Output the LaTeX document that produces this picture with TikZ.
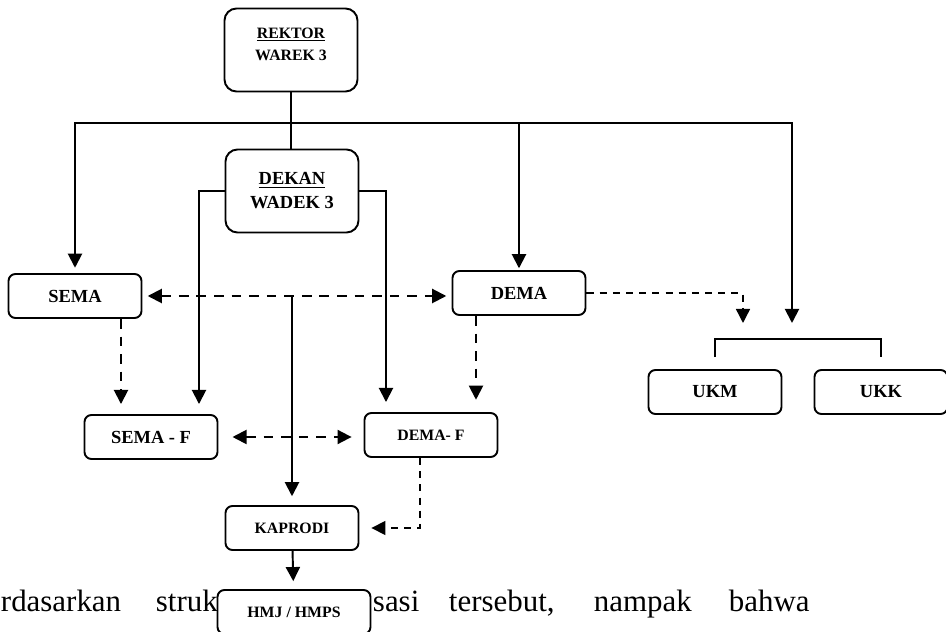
\documentclass[tikz,border=0pt]{standalone}
\usepackage{fontspec}
\setmainfont{Liberation Serif}
\usetikzlibrary{arrows.meta, calc}
\def\boxwd{26.6mm}

\begin{document}
\begin{tikzpicture}[x=0.2mm, y=-0.2mm, line width=1.1pt, >={Triangle[length=8pt,width=8pt]}]
    \tikzstyle{unit box}=[draw, rounded corners=1.4mm, minimum width=\boxwd, minimum height=8.8mm, inner sep=0pt, fill=white, font=\bfseries\fontsize{10.5}{12}\selectfont]
    \tikzstyle{small box}=[unit box, font=\bfseries\fontsize{9}{11}\selectfont]
    \tikzstyle{head box}=[unit box, rounded corners=2.4mm, minimum height=16.6mm, align=center]
    \tikzstyle{link}=[->, shorten >=1pt]
    \tikzstyle{dash link}=[link, dash pattern=on 5.5pt off 4.5pt]
    \tikzstyle{thin dash link}=[link, line width=0.8pt, dash pattern=on 4pt off 3.5pt]
    \tikzstyle{word}=[anchor=base west, inner sep=0pt, font=\fontsize{17.6}{20}\selectfont]

    \useasboundingbox (0,0) rectangle (946,632);

    % Draw the text line behind the chart
    \foreach \word/\x in {rdasarkan/0, struk/155, sasi/372, {tersebut,}/448, nampak/593, bahwa/728}
        \node[word] (w-\x) at (\x,612) {\word};

    % Draw the top boxes
    \node[head box] (rektor) at (291,50) {};
    \node[align=center, font=\bfseries\fontsize{9}{12.5}\selectfont] (rektor-text) at (291,44) {\underline{REKTOR}\\WAREK 3};
    \node[head box, font=\bfseries\fontsize{10.5}{13.6}\selectfont] (dekan) at (292,191) {\underline{DEKAN}\\WADEK 3};

    % Draw the unit boxes
    \foreach \name/\x/\y/\txt in {sema/75/296/SEMA, dema/519/293/DEMA, semaf/151/437/SEMA - F, ukm/715/392/UKM, ukk/881/392/UKK}
        \node[unit box] (\name) at (\x,\y) {\txt};
    \foreach \name/\x/\y/\txt in {demaf/431/435/DEMA- F, kaprodi/292/528/KAPRODI}
        \node[small box] (\name) at (\x,\y) {\txt};
    \node[small box, minimum width=30.6mm] (hmj) at (294,612) {HMJ / HMPS};

    % Connect the rektor with the dekan and the bus line
    \coordinate (bus) at (rektor.south |- 0,123);
    \coordinate (ukk-in) at (792,323);
    \coordinate (ukm-in) at (743,323);
    \draw (rektor.south) -- (rektor.south |- dekan.north);
    \draw[link, shorten >=3pt] (bus) -| (sema.north);
    \draw[link] (bus) -| (dema.north);
    \draw[link, shorten >=0pt] (bus) -| (ukk-in);

    % Connect the dekan with the faculty boxes
    \draw[link, shorten >=5.7pt] (dekan.west) -| ([xshift=9.6mm]semaf.north);
    \draw[link, shorten >=5.7pt] (dekan.east) -| ([xshift=-9mm]demaf.north);

    % Dashed links between the student bodies
    \draw[dash link, <->, shorten <=3pt, shorten >=3pt] (sema.east) -- (sema.east -| dema.west);
    \draw[dash link, shorten >=5.7pt] ([xshift=9.2mm]sema.south) -- ([xshift=9.2mm]sema.south |- semaf.north);
    \draw[dash link, shorten >=7pt] ([xshift=-8.6mm]dema.south) -- ([xshift=-8.6mm]dema.south |- demaf.north);
    \draw[dash link, <->, shorten <=8pt, shorten >=6.8pt] (semaf.east) -- (semaf.east -| demaf.west);
    \draw[thin dash link, shorten >=6.8pt] ([xshift=-2.2mm]demaf.south) |- (kaprodi.east);
    \draw[thin dash link, shorten >=0pt] (dema.east) -| (ukm-in);

    % Line down to the kaprodi and the hmj
    \coordinate (split) at (kaprodi.north |- sema.east);
    \draw[link, shorten >=5pt] (split) -- (kaprodi.north);
    \draw[link, shorten >=4.5pt] (kaprodi) -- (hmj);

    % Bracket over UKM and UKK
    \draw ([yshift=2.4mm]ukm.north) -- ++(0,-18) -| ([yshift=2.4mm]ukk.north);
\end{tikzpicture}
\end{document}
